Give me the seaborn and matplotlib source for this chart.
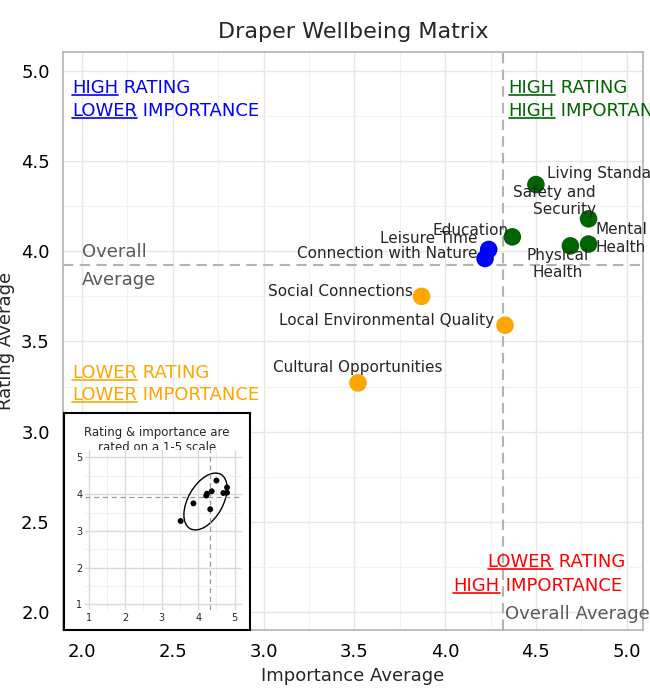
import matplotlib
matplotlib.use("Agg")
import matplotlib.pyplot as plt
from matplotlib.lines import Line2D
import seaborn as sns
import pandas as pd
from matplotlib.patches import Ellipse

names = ["Living Standards", "Safety and\nSecurity", "Education", "Mental\nHealth", "Physical\nHealth",
         "Leisure Time", "Connection with Nature", "Social Connections",
         "Local Environmental Quality", "Cultural Opportunities"]
importance = [4.50, 4.79, 4.37, 4.79, 4.69, 4.24, 4.22, 3.87, 4.33, 3.52]
rating = [4.37, 4.18, 4.08, 4.04, 4.03, 4.01, 3.96, 3.75, 3.59, 3.27]
group = ["g", "g", "g", "g", "g", "b", "b", "o", "o", "o"]
avg_importance = 4.32
avg_rating = 3.925

colors = {"g": "#006400", "b": "#0000FF", "o": "#FFA500"}
df = pd.DataFrame({"name": names, "imp": importance, "rat": rating, "grp": group})

sns.set_theme(style="whitegrid")
plt.rcParams["font.family"] = ["DejaVu Sans"]

fig = plt.figure(figsize=(6.5, 7), dpi=100)
ax = fig.add_axes([63/650, 70/700, 580/650, 578/700])
sns.scatterplot(data=df, x="imp", y="rat", hue="grp", palette=colors, s=160, ax=ax,
                legend=False, edgecolor="none", zorder=3)
ax.set_xlim(1.895, 5.09)
ax.set_ylim(1.9, 5.105)
ax.set_xticks([2.0, 2.5, 3.0, 3.5, 4.0, 4.5, 5.0])
ax.set_yticks([2.0, 2.5, 3.0, 3.5, 4.0, 4.5, 5.0])
ax.set_xticks([2.25, 2.75, 3.25, 3.75, 4.25, 4.75], minor=True)
ax.set_yticks([2.25, 2.75, 3.25, 3.75, 4.25, 4.75], minor=True)
ax.grid(which="major", color="#e6e6e6", lw=1)
ax.grid(which="minor", color="#f2f2f2", lw=0.8)
ax.tick_params(labelsize=13, colors="black")
ax.set_xlabel("Importance Average", fontsize=13)
ax.set_ylabel("Rating Average", fontsize=13)
for s in ax.spines.values():
    s.set_visible(True); s.set_color("#b3b3b3"); s.set_linewidth(1.2)
ax.set_title("Draper Wellbeing Matrix", fontsize=16, pad=10)
ax.axvline(avg_importance, color="#b3b3b3", ls=(0, (5, 3)), lw=1.5, zorder=1)
ax.axhline(avg_rating, color="#b3b3b3", ls=(0, (5, 3)), lw=1.5, zorder=1)

labpos = {
    "Living Standards": (4.56, 4.43, "left"),
    "Safety and\nSecurity": (4.83, 4.28, "right"),
    "Education": (4.35, 4.115, "right"),
    "Mental\nHealth": (4.83, 4.07, "left"),
    "Physical\nHealth": (4.62, 3.93, "center"),
    "Leisure Time": (4.18, 4.07, "right"),
    "Connection with Nature": (4.18, 3.99, "right"),
    "Social Connections": (3.82, 3.775, "right"),
    "Local Environmental Quality": (4.27, 3.615, "right"),
    "Cultural Opportunities": (3.52, 3.355, "center"),
}
for n in names:
    x, y, ha = labpos[n]
    ax.text(x, y, n, ha=ha, va="center", fontsize=11, zorder=4, linespacing=1.2)

fs = 13
underlined = []
def uline(x, y, word, rest, color):
    t = ax.text(x, y, word, color=color, fontsize=fs, va="center", ha="left")
    ax.annotate(rest, xy=(1, 0), xycoords=t, va="bottom", ha="left", color=color, fontsize=fs)
    underlined.append((t, color))

uline(1.945, 4.906, "HIGH", " RATING", "blue")
uline(1.945, 4.778, "LOWER", " IMPORTANCE", "blue")
uline(4.35, 4.906, "HIGH", " RATING", "#006400")
uline(4.35, 4.778, "HIGH", " IMPORTANCE", "#006400")
uline(1.945, 3.325, "LOWER", " RATING", "#FFA500")
uline(1.945, 3.203, "LOWER", " IMPORTANCE", "#FFA500")
uline(4.234, 2.277, "LOWER", " RATING", "red")
uline(4.046, 2.144, "HIGH", " IMPORTANCE", "red")

ax.text(2.0, 3.995, "Overall", color="#595959", fontsize=13, va="center", ha="left")
ax.text(2.0, 3.84, "Average", color="#595959", fontsize=13, va="center", ha="left")
ax.text(4.33, 1.99, "Overall Average", color="#595959", fontsize=13, va="center", ha="left")

# inset
box = fig.add_axes([64/650, 70/700, 186/650, 217/700])
box.set_xticks([]); box.set_yticks([]); box.set_facecolor("white")
for s in box.spines.values():
    s.set_visible(True); s.set_color("black"); s.set_linewidth(1.5)
box.grid(False)
box.text(0.5, 0.94, "Rating & importance are\nrated on a 1-5 scale", ha="center", va="top",
         fontsize=8.5, transform=box.transAxes, linespacing=1.2)
ins = fig.add_axes([85/650, 90/700, 157/650, 160/700])
sns.scatterplot(data=df, x="imp", y="rat", color="black", s=18, ax=ins, edgecolor="none", zorder=3)
ins.set_xlim(0.9, 5.2); ins.set_ylim(0.85, 5.2)
ins.set_xticks([1, 2, 3, 4, 5]); ins.set_yticks([1, 2, 3, 4, 5])
ins.set_xticks([1.5, 2.5, 3.5, 4.5], minor=True); ins.set_yticks([1.5, 2.5, 3.5, 4.5], minor=True)
ins.grid(which="major", color="#d9d9d9", lw=1); ins.grid(which="minor", color="#ececec", lw=0.6)
ins.tick_params(labelsize=7, pad=2, length=0)
ins.set_xlabel(""); ins.set_ylabel("")
for s in ins.spines.values():
    s.set_visible(False)
ins.axvline(avg_importance, color="#999999", ls=(0, (4, 3)), lw=0.9)
ins.axhline(avg_rating, color="#999999", ls=(0, (4, 3)), lw=0.9)
ins.add_patch(Ellipse((4.2, 3.8), 0.95, 1.7, angle=-30, fill=False, color="black", lw=1))

fig.canvas.draw()
r = fig.canvas.get_renderer()
for t, c in underlined:
    bb = t.get_window_extent(r)
    yb = bb.y0 + 2
    fig.add_artist(Line2D([bb.x0 / fig.dpi / 6.5, bb.x1 / fig.dpi / 6.5],
                          [yb / fig.dpi / 7, yb / fig.dpi / 7], color=c, lw=1.2,
                          transform=fig.transFigure))

fig.savefig("out.png", dpi=100)
